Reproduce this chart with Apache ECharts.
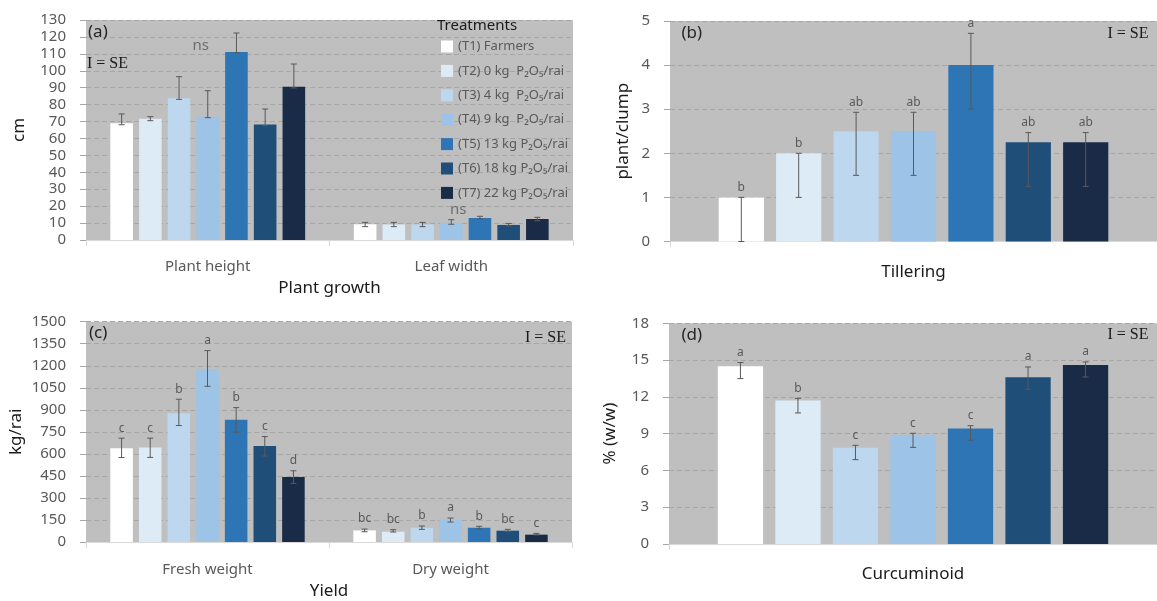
<!DOCTYPE html>
<html>
<head>
<meta charset="utf-8">
<script src="https://cdn.jsdelivr.net/npm/echarts@6/dist/echarts.min.js"></script>
<style>
  html, body { margin: 0; padding: 0; background: #ffffff; }
  #chart { width: 1157px; height: 601px; }
</style>
</head>
<body>
<div id="chart"></div>
<script>
// ---- Treatments ----
const treatments = [
  '(T1) Farmers',
  '(T2) 0 kg  P\u2082O\u2085/rai',
  '(T3) 4 kg  P\u2082O\u2085/rai',
  '(T4) 9 kg  P\u2082O\u2085/rai',
  '(T5) 13 kg P\u2082O\u2085/rai',
  '(T6) 18 kg P\u2082O\u2085/rai',
  '(T7) 22 kg P\u2082O\u2085/rai'
];

// ---- (a) Plant growth, cm ----
const growthCategories = ['Plant height', 'Leaf width'];
const plantHeight   = [69.0, 71.7, 83.7, 72.9, 111.1, 68.2, 90.6];
const plantHeightHi = [74.5, 72.9, 96.5, 88.2, 122.3, 77.4, 104.0];
const plantHeightLo = [68.1, 70.5, 83.1, 72.3, 110.7, 67.6, 89.8];
const leafWidth     = [9.3, 9.2, 9.2, 10.2, 13.0, 8.9, 12.4];
const leafWidthHi   = [10.4, 10.4, 10.4, 12.0, 14.0, 9.8, 13.4];
const leafWidthLo   = [7.9, 7.9, 7.9, 9.3, 12.4, 8.3, 11.4];
const growthNsHeights = [114.6, 17.7];

// ---- (b) Tillering, plant/clump ----
const tilleringCategories = ['Tillering'];
const tillering        = [1.0, 2.0, 2.5, 2.5, 4.0, 2.25, 2.25];
const tilleringHi      = [1.0, 2.0, 2.93, 2.93, 4.72, 2.47, 2.47];
const tilleringLo      = [0.0, 1.0, 1.5, 1.5, 3.0, 1.25, 1.25];
const tilleringLetters = ['b', 'b', 'ab', 'ab', 'a', 'ab', 'ab'];

// ---- (c) Yield, kg/rai ----
const yieldCategories = ['Fresh weight', 'Dry weight'];
const freshWeight        = [639, 643, 877, 1178, 832, 653, 442];
const freshWeightHi      = [707, 707, 972, 1303, 915, 718, 485];
const freshWeightLo      = [575, 576, 793, 1060, 748, 585, 399];
const freshWeightLetters = ['c', 'c', 'b', 'a', 'b', 'c', 'd'];
const dryWeight          = [79, 70, 97, 152, 97, 77, 50];
const dryWeightHi        = [88, 84, 109, 163, 107, 86, 59];
const dryWeightLo        = [70, 68, 86, 136, 88, 70, 48];
const dryWeightLetters   = ['bc', 'bc', 'b', 'a', 'b', 'bc', 'c'];

// ---- (d) Curcuminoid, % (w/w) ----
const curcuminoidCategories = ['Curcuminoid'];
const curcuminoid        = [14.5, 11.7, 7.86, 8.89, 9.43, 13.59, 14.6];
const curcuminoidHi      = [14.8, 11.88, 8.05, 9.03, 9.65, 14.44, 14.85];
const curcuminoidLo      = [13.49, 10.69, 6.88, 7.88, 8.46, 12.62, 13.62];
const curcuminoidLetters = ['a', 'b', 'c', 'c', 'c', 'a', 'a'];

// ---- styling ----
const barColors = ['#ffffff', '#ddebf7', '#bdd7ee', '#9dc3e6', '#2e75b6', '#1f4e79', '#1a2b48'];
const SANS = "'Noto Sans', 'DejaVu Sans', sans-serif";
const SERIF = "'Liberation Serif', 'DejaVu Serif', serif";
const CAT_GAP = 0.20;
const BAR_GAP = 0.27;
const PLOT_BG = '#bfbfbf';
const GRID_LINE = '#a6a6a6';
const TEXT_GRAY = '#595959';
const TEXT_DARK = '#1a1a1a';

const panels = [
  {
    grid: { left: 86, top: 20, width: 487, height: 220 },
    categories: growthCategories,
    groups: [
      { values: plantHeight, hi: plantHeightHi, lo: plantHeightLo, letters: null },
      { values: leafWidth, hi: leafWidthHi, lo: leafWidthLo, letters: null }
    ],
    y: { min: 0, max: 130, interval: 10, name: 'cm', nameGap: 58 },
    x: { labelSize: 15, labelColor: TEXT_GRAY, margin: 19, name: 'Plant growth', nameGap: 40 }
  },
  {
    grid: { left: 670, top: 21, right: -3, height: 220.5 },
    categories: tilleringCategories,
    groups: [
      { values: tillering, hi: tilleringHi, lo: tilleringLo, letters: tilleringLetters }
    ],
    y: { min: 0, max: 5, interval: 1, name: 'plant/clump', nameGap: 38 },
    x: { labelSize: 17, labelColor: TEXT_DARK, margin: 22, name: '', nameGap: 0 }
  },
  {
    grid: { left: 86, top: 321.7, width: 486, height: 220.6 },
    categories: yieldCategories,
    groups: [
      { values: freshWeight, hi: freshWeightHi, lo: freshWeightLo, letters: freshWeightLetters },
      { values: dryWeight, hi: dryWeightHi, lo: dryWeightLo, letters: dryWeightLetters }
    ],
    y: { min: 0, max: 1500, interval: 150, name: 'kg/rai', nameGap: 61 },
    x: { labelSize: 15, labelColor: TEXT_GRAY, margin: 20, name: 'Yield', nameGap: 41 }
  },
  {
    grid: { left: 669, top: 323.3, right: -2, height: 220.7 },
    categories: curcuminoidCategories,
    groups: [
      { values: curcuminoid, hi: curcuminoidHi, lo: curcuminoidLo, letters: curcuminoidLetters }
    ],
    y: { min: 0, max: 18, interval: 3, name: '% (w/w)', nameGap: 50 },
    x: { labelSize: 17, labelColor: TEXT_DARK, margin: 22, name: '', nameGap: 0 }
  }
];

const grids = [], xAxes = [], yAxes = [], series = [];

panels.forEach((p, pi) => {
  grids.push(Object.assign({
    show: true, backgroundColor: PLOT_BG, borderWidth: 0, containLabel: false
  }, p.grid));

  xAxes.push({
    gridIndex: pi,
    type: 'category',
    data: p.categories,
    axisLine: { show: true, lineStyle: { color: '#d9d9d9', width: 1 } },
    axisTick: { show: true, length: 6, lineStyle: { color: '#d9d9d9' } },
    axisLabel: { fontSize: p.x.labelSize, color: p.x.labelColor, margin: p.x.margin, fontFamily: SANS },
    splitLine: { show: false },
    name: p.x.name,
    nameLocation: 'middle',
    nameGap: p.x.nameGap,
    nameTextStyle: { fontSize: 17, color: TEXT_DARK, fontFamily: SANS }
  });

  yAxes.push({
    gridIndex: pi,
    type: 'value',
    min: p.y.min, max: p.y.max, interval: p.y.interval,
    axisLine: { show: false },
    axisTick: { show: true, length: 6, lineStyle: { color: GRID_LINE } },
    axisLabel: {
      fontSize: 15, color: TEXT_GRAY, margin: 20, fontFamily: SANS,
      formatter: v => String(v)
    },
    splitLine: { show: true, lineStyle: { color: GRID_LINE, width: 1, type: [5, 3] } },
    name: p.y.name,
    nameLocation: 'middle',
    nameGap: p.y.nameGap,
    nameTextStyle: { fontSize: 17, color: TEXT_DARK, fontFamily: SANS }
  });

  // one bar series per treatment
  treatments.forEach((name, t) => {
    series.push({
      type: 'bar',
      name: name,
      xAxisIndex: pi,
      yAxisIndex: pi,
      data: p.groups.map(g => g.values[t]),
      itemStyle: { color: barColors[t] },
      barCategoryGap: (CAT_GAP * 100) + '%',
      barGap: (BAR_GAP * 100) + '%',
      emphasis: { disabled: true },
      animation: false
    });
  });

  // error bars with significance letters
  const errData = [];
  const errLetters = [];
  p.groups.forEach((g, c) => {
    treatments.forEach((_, t) => {
      errData.push([c, t, g.lo[t], g.hi[t]]);
      errLetters.push(g.letters ? g.letters[t] : '');
    });
  });
  series.push({
    type: 'custom',
    name: 'SE',
    xAxisIndex: pi,
    yAxisIndex: pi,
    z: 5,
    silent: true,
    animation: false,
    encode: { x: 0, y: [2, 3] },
    data: errData,
    renderItem: function (params, api) {
      const c = api.value(0), t = api.value(1);
      const lo = api.value(2), hi = api.value(3);
      const n = treatments.length;
      const center = api.coord([c, 0])[0];
      const band = api.size([1, 0])[0];
      const groupW = band * (1 - CAT_GAP);
      const w = groupW / (n + (n - 1) * BAR_GAP);
      const x = center - groupW / 2 + t * w * (1 + BAR_GAP) + w / 2;
      const yHi = api.coord([c, hi])[1];
      const yLo = api.coord([c, lo])[1];
      const stroke = { stroke: '#595959', lineWidth: 1 };
      const children = [
        { type: 'line', shape: { x1: x, y1: yHi, x2: x, y2: yLo }, style: stroke },
        { type: 'line', shape: { x1: x - 3, y1: yHi, x2: x + 3, y2: yHi }, style: stroke },
        { type: 'line', shape: { x1: x - 3, y1: yLo, x2: x + 3, y2: yLo }, style: stroke }
      ];
      const letter = errLetters[params.dataIndex];
      if (letter) {
        children.push({
          type: 'text',
          style: {
            text: letter, x: x, y: yHi - 10,
            align: 'center', verticalAlign: 'middle',
            fontSize: 12, fontFamily: SANS, fill: TEXT_GRAY
          }
        });
      }
      return { type: 'group', children: children };
    }
  });
});

// "ns" marks over the growth groups
series.push({
  type: 'scatter',
  name: 'ns',
  xAxisIndex: 0,
  yAxisIndex: 0,
  symbolSize: 0,
  silent: true,
  z: 6,
  animation: false,
  label: { show: true, position: 'inside', formatter: 'ns', fontSize: 15, color: TEXT_GRAY, fontFamily: SANS },
  data: [
    { value: [0, growthNsHeights[0]], label: { offset: [-7, 0] } },
    { value: [1, growthNsHeights[1]], label: { offset: [7, 0] } }
  ]
});

function panelText(text, x, y, font, size, color) {
  return {
    type: 'text', x: x, y: y, z: 10, silent: true,
    style: { text: text, fontFamily: font, fontSize: size, fill: color, align: 'left', verticalAlign: 'middle' }
  };
}

const option = {
  backgroundColor: '#ffffff',
  animation: false,
  textStyle: { fontFamily: SANS },
  grid: grids,
  xAxis: xAxes,
  yAxis: yAxes,
  legend: {
    data: treatments,
    orient: 'vertical',
    left: 441,
    top: 40,
    padding: 0,
    itemWidth: 12,
    itemHeight: 12,
    itemGap: 11.4,
    icon: 'rect',
    selectedMode: false,
    textStyle: { fontSize: 13, color: TEXT_GRAY, fontFamily: SANS }
  },
  graphic: [
    panelText('(a)', 88, 31.7, SANS, 17, '#262626'),
    panelText('(b)', 681.5, 33.3, SANS, 17, '#262626'),
    panelText('(c)', 89, 333.3, SANS, 17, '#262626'),
    panelText('(d)', 681.5, 335, SANS, 17, '#262626'),
    panelText('I = SE', 87, 63.3, SERIF, 16, '#1a1a1a'),
    panelText('I = SE', 1107.5, 33.3, SERIF, 16, '#1a1a1a'),
    panelText('I = SE', 525, 337.7, SERIF, 16, '#1a1a1a'),
    panelText('I = SE', 1107.5, 334.3, SERIF, 16, '#1a1a1a'),
    panelText('Treatments', 437, 26, SANS, 15, '#1a1a1a')
  ],
  series: series
};

const chart = echarts.init(document.getElementById('chart'), null, { renderer: 'canvas' });
chart.setOption(option);
</script>
</body>
</html>
